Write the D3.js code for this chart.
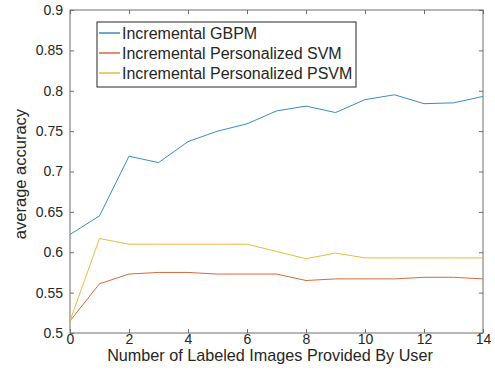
<!DOCTYPE html>
<html>
<head>
<meta charset="utf-8">
<script src="https://cdn.jsdelivr.net/npm/d3@7"></script>
<style>
  body { margin: 0; background: #fff; }
  text { font-family: "Liberation Sans", Arial, sans-serif; fill: #262626; }
</style>
</head>
<body>
<svg id="chart" width="495" height="375"></svg>
<script>
//////////////////////////////////////////////////////////////////////////////
// Data
//////////////////////////////////////////////////////////////////////////////

var num_labeled = [0, 1, 2, 3, 4, 5, 6, 7, 8, 9, 10, 11, 12, 13, 14]

var gbpm = [0.622, 0.645, 0.719, 0.711, 0.737, 0.750, 0.759, 0.775, 0.781, 0.773, 0.789, 0.795, 0.784, 0.785, 0.793]
var svm  = [0.515, 0.561, 0.573, 0.575, 0.575, 0.573, 0.573, 0.573, 0.565, 0.567, 0.567, 0.567, 0.569, 0.569, 0.567]
var psvm = [0.515, 0.617, 0.610, 0.610, 0.610, 0.610, 0.610, 0.601, 0.592, 0.599, 0.593, 0.593, 0.593, 0.593, 0.593]

var series_names  = ['Incremental GBPM', 'Incremental Personalized SVM', 'Incremental Personalized PSVM']
var series_colors = ['#3a8cc2', '#d8683c', '#e9bb3e']

var x_ticks = [0, 2, 4, 6, 8, 10, 12, 14]
var y_ticks = [0.5, 0.55, 0.6, 0.65, 0.7, 0.75, 0.8, 0.85, 0.9]

//////////////////////////////////////////////////////////////////////////////
// Layout
//////////////////////////////////////////////////////////////////////////////

var plot = { left: 70, top: 10, right: 483, bottom: 333 }
var axis_color = '#6e6e6e'

var svg = d3.select('#chart')

var x = d3.scaleLinear().domain([0, 14]).range([plot.left, plot.right])
var y = d3.scaleLinear().domain([0.5, 0.9]).range([plot.bottom, plot.top])

//////////////////////////////////////////////////////////////////////////////
// Axes (box with inward ticks on all four sides)
//////////////////////////////////////////////////////////////////////////////

function style_axis(g) {
  g.select('.domain').remove()
  g.selectAll('.tick line').attr('stroke', axis_color)
  g.selectAll('.tick text').attr('font-size', 14).attr('fill', '#262626')
}

svg.append('g')
  .attr('transform', 'translate(0,' + plot.bottom + ')')
  .call(d3.axisBottom(x).tickValues(x_ticks).tickSize(-4).tickPadding(1).tickFormat(d3.format('d')))
  .call(style_axis)

svg.append('g')
  .attr('transform', 'translate(0,' + plot.top + ')')
  .call(d3.axisTop(x).tickValues(x_ticks).tickSize(-4).tickFormat(''))
  .call(style_axis)

svg.append('g')
  .attr('transform', 'translate(' + plot.left + ',0)')
  .call(d3.axisLeft(y).tickValues(y_ticks).tickSize(-4).tickPadding(7).tickFormat(d3.format('')))
  .call(style_axis)

svg.append('g')
  .attr('transform', 'translate(' + plot.right + ',0)')
  .call(d3.axisRight(y).tickValues(y_ticks).tickSize(-4).tickFormat(''))
  .call(style_axis)

svg.append('rect')
  .attr('x', plot.left)
  .attr('y', plot.top)
  .attr('width', plot.right - plot.left)
  .attr('height', plot.bottom - plot.top)
  .attr('fill', 'none')
  .attr('stroke', axis_color)
  .attr('stroke-width', 1)

//////////////////////////////////////////////////////////////////////////////
// Lines
//////////////////////////////////////////////////////////////////////////////

var line = d3.line()
  .x(function(d, i) { return x(num_labeled[i]) })
  .y(function(d) { return y(d) })

;[gbpm, svm, psvm].forEach(function(values, i) {
  svg.append('path')
    .datum(values)
    .attr('d', line)
    .attr('fill', 'none')
    .attr('stroke', series_colors[i])
    .attr('stroke-width', 1)
})

//////////////////////////////////////////////////////////////////////////////
// Axis labels
//////////////////////////////////////////////////////////////////////////////

svg.append('text')
  .attr('x', 270)
  .attr('y', 361)
  .attr('text-anchor', 'middle')
  .attr('font-size', 16.2)
  .text('Number of Labeled Images Provided By User')

svg.append('text')
  .attr('transform', 'translate(25.5,174) rotate(-90)')
  .attr('text-anchor', 'middle')
  .attr('font-size', 16.5)
  .text('average accuracy')

//////////////////////////////////////////////////////////////////////////////
// Legend
//////////////////////////////////////////////////////////////////////////////

var legend = svg.append('g').attr('transform', 'translate(97,22)')

legend.append('rect')
  .attr('width', 259)
  .attr('height', 65)
  .attr('fill', '#fff')
  .attr('stroke', '#262626')
  .attr('stroke-width', 1)

// legend rows: short line sample then the name
series_names.forEach(function(name, i) {
  var ly = 11 + i * 20
  legend.append('path')
    .attr('d', 'M2,' + ly + 'H23')
    .attr('stroke', series_colors[i])
    .attr('stroke-width', 1.5)
  legend.append('text')
    .attr('x', 25)
    .attr('y', ly + 6)
    .attr('font-size', 16)
    .text(name)
})
</script>
</body>
</html>
